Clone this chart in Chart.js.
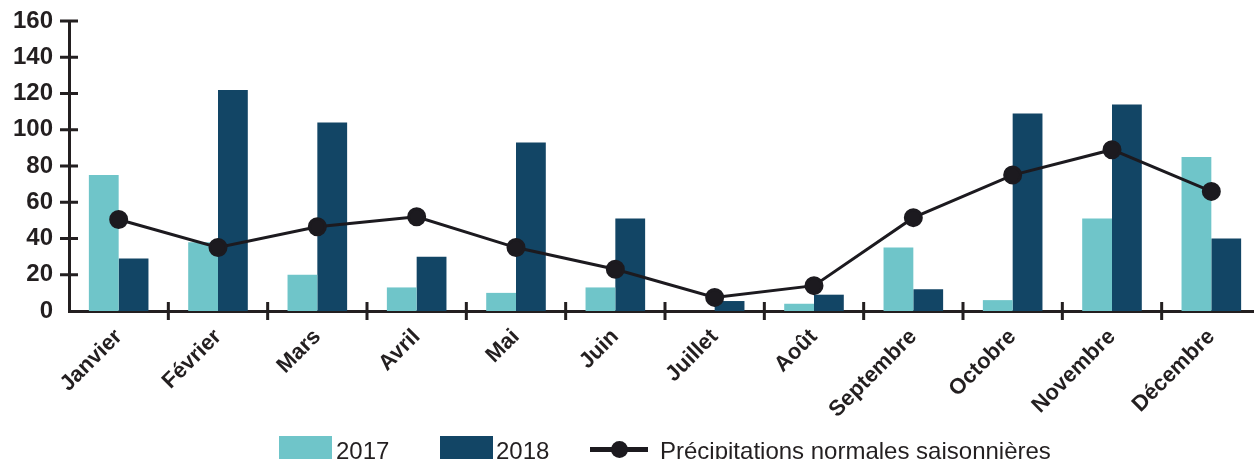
<!DOCTYPE html>
<html lang="fr">
<head>
<meta charset="utf-8">
<script src="https://cdn.jsdelivr.net/npm/chart.js@4.4.1/dist/chart.umd.min.js"></script>
<style>
  html, body { margin: 0; padding: 0; background: #fff; overflow: hidden; }
  #wrap { position: relative; width: 1254px; height: 459px; overflow: hidden; }
  #legend { position: absolute; left: 0; top: 436px; font-family: "Liberation Sans", Arial, sans-serif; font-size: 24px; color: #231f20; }
  #legend span { position: absolute; white-space: nowrap; }
  .swatch { height: 30px; width: 53px; top: 0; }
  .txt { top: 0; line-height: 29px; }
</style>
</head>
<body>
<div id="wrap">
  <!-- canvas a bit wider than the view: the axis runs off the right edge like in the original -->
  <canvas id="chart" width="1272" height="459"></canvas>
  <div id="legend">
    <span class="swatch" style="left:279px;background:#6fc5c9"></span>
    <span class="txt" style="left:336px">2017</span>
    <span class="swatch" style="left:440px;background:#124565"></span>
    <span class="txt" style="left:496px">2018</span>
    <span style="left:590px;top:11px;width:58px;height:5px;background:#1c1a1f"></span>
    <span style="left:611px;top:5px;width:17px;height:17px;border-radius:50%;background:#1c1a1f"></span>
    <span class="txt" style="left:660px">Précipitations normales saisonnières</span>
  </div>
</div>
<script>
// ===== Data =====
const months = ["Janvier", "Février", "Mars", "Avril", "Mai", "Juin", "Juillet", "Août", "Septembre", "Octobre", "Novembre", "Décembre"];
const rain2017 = [75, 38, 20, 13, 10, 13, 0, 4, 35, 6, 51, 85];
const rain2018 = [29, 122, 104, 30, 93, 51, 5.5, 9, 12, 109, 114, 40];
const normals = [50.5, 35, 46.5, 52, 35, 23, 7.5, 14, 51.5, 75, 89, 66];
const yTicks = [0, 20, 40, 60, 80, 100, 120, 140, 160];

const axisColor = "#231f20";
const labelFont = "'Liberation Sans', Arial, sans-serif";

// ===== Cross ticks on both axes =====
const crossTicks = {
  id: "crossTicks",
  afterDraw(chart) {
    const { ctx, chartArea, scales } = chart;
    ctx.save();
    ctx.strokeStyle = axisColor;
    ctx.lineWidth = 3;
    ctx.beginPath();
    yTicks.forEach(v => {
      if (v === 0) return;
      const py = scales.y.getPixelForValue(v);
      ctx.moveTo(chartArea.left - 9, py);
      ctx.lineTo(chartArea.left + 9, py);
    });
    for (let i = 1; i < months.length; i++) {
      const px = (scales.x.getPixelForValue(i - 1) + scales.x.getPixelForValue(i)) / 2;
      ctx.moveTo(px, chartArea.bottom - 9);
      ctx.lineTo(px, chartArea.bottom + 9);
    }
    ctx.stroke();
    ctx.restore();
  }
};

const chart = new Chart(document.getElementById("chart"), {
  data: {
    labels: months,
    datasets: [
      {
        type: "line",
        label: "Précipitations normales saisonnières",
        data: normals,
        borderColor: "#1c1a1f",
        backgroundColor: "#1c1a1f",
        borderWidth: 3,
        pointRadius: 8,
        pointHoverRadius: 8,
        tension: 0,
        order: 0
      },
      {
        type: "bar",
        label: "2017",
        data: rain2017,
        backgroundColor: "#6fc5c9",
        categoryPercentage: 0.6,
        barPercentage: 1.0,
        order: 1
      },
      {
        type: "bar",
        label: "2018",
        data: rain2018,
        backgroundColor: "#124565",
        categoryPercentage: 0.6,
        barPercentage: 1.0,
        order: 1
      }
    ]
  },
  options: {
    responsive: false,
    animation: false,
    layout: { padding: { top: 21, right: 0, bottom: 0, left: 0 } },
    plugins: { legend: { display: false }, tooltip: { enabled: false } },
    scales: {
      x: {
        grid: { display: false, offset: true },
        border: { display: true, color: axisColor, width: 3 },
        ticks: {
          color: axisColor,
          font: { family: labelFont, size: 22, weight: "bold" },
          minRotation: 45,
          maxRotation: 45,
          padding: 5
        },
        afterFit: s => { s.height = 148; s.paddingLeft = 0; s.paddingRight = 0; }
      },
      y: {
        min: 0,
        max: 160,
        grid: { display: false },
        border: { display: true, color: axisColor, width: 3 },
        ticks: {
          stepSize: 20,
          color: axisColor,
          font: { family: labelFont, size: 24, weight: "bold" },
          padding: 8
        },
        afterFit: s => { s.width = 69; s.paddingTop = 0; s.paddingBottom = 0; }
      }
    }
  },
  plugins: [crossTicks]
});
</script>
</body>
</html>
